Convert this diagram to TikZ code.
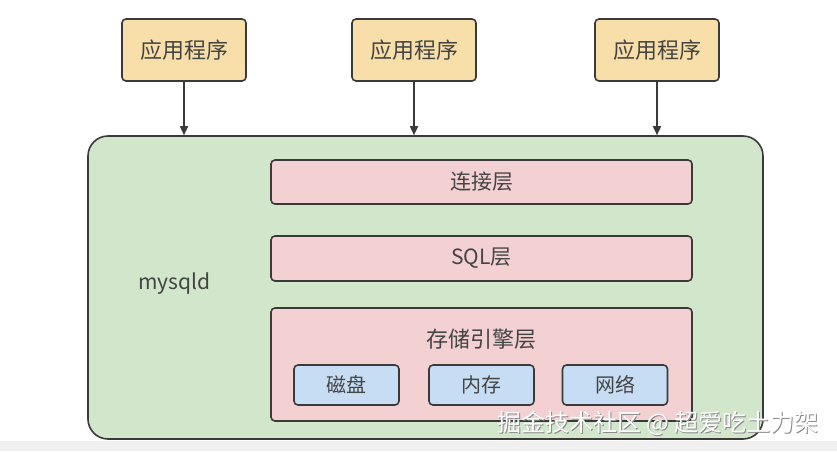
\documentclass[tikz,border=0pt]{standalone}
\usepackage{fontspec}
\setmainfont{Noto Sans CJK SC}
\usepackage{xcolor}
\usepackage{tikz}
\usetikzlibrary{positioning,arrows.meta,calc}
\definecolor{edge}{HTML}{3A3A3A}
\definecolor{ink}{HTML}{444444}
\definecolor{appfill}{HTML}{F8DFA9}
\definecolor{srvfill}{HTML}{D1E6CB}
\definecolor{layfill}{HTML}{F3D0D1}
\definecolor{devfill}{HTML}{C7DDF4}
\definecolor{wmshadow}{HTML}{8A8A8A}
\tikzset{
  box/.style={draw=edge,line width=1.6pt,rounded corners=4pt,text=ink,inner sep=0pt},
  appbox/.style={box,fill=appfill,minimum width=124pt,minimum height=62pt,font=\fontsize{22}{24}\selectfont},
  laybox/.style={box,fill=layfill,minimum width=421pt},
  devbox/.style={box,fill=devfill,minimum width=105pt,minimum height=40pt,font=\fontsize{20}{22}\selectfont},
}

\begin{document}
\begin{tikzpicture}[x=1pt,y=-1pt,font=\fontsize{21}{23}\selectfont]
\useasboundingbox (0,0) rectangle (837,451);
\fill[white] (0,0) rectangle (837,451);
\fill[black!6] (0,441) rectangle (837,451);
% server
\node[box,fill=srvfill,rounded corners=20pt,minimum width=675pt,minimum height=303pt] (srv) at (425.5,287.5) {};
\node[text=ink,anchor=west] (mysqld) at (135,284) {mysqld};
% applications
\node[appbox] (app1) at (184,50) {应用程序};
\node[appbox] (app2) at (414,50) {应用程序};
\node[appbox] (app3) at (657,50) {应用程序};
\foreach \a in {app1,app2,app3}
  \draw[-{Triangle[length=9pt,width=8pt]},line width=1.6pt,draw=edge] (\a) -- (\a |- srv.north);
% layers
\node[laybox,minimum height=44pt] (conn) at (481.5,182) {连接层};
\node[laybox,minimum height=45pt] (sql) at (481.5,258.5) {SQL层};
\node[laybox,minimum height=113pt] (engine) at (481.5,364.5) {};
\node[text=ink,font=\fontsize{22}{24}\selectfont] (enginelbl) at (481.5,339) {存储引擎层};
\node[devbox] (disk) at (346.5,385) {磁盘};
\node[devbox] (mem) at (481.5,385) {内存};
\node[devbox] (net) at (615,385) {网络};
% watermark
\node[text=wmshadow,font=\fontsize{24}{26}\selectfont,anchor=east] (wmb) at (823,424) {掘金技术社区 @ 超爱吃土力架};
\node[text=white,font=\fontsize{24}{26}\selectfont,anchor=east] (wm) at (822,423) {掘金技术社区 @ 超爱吃土力架};
\end{tikzpicture}
\end{document}
